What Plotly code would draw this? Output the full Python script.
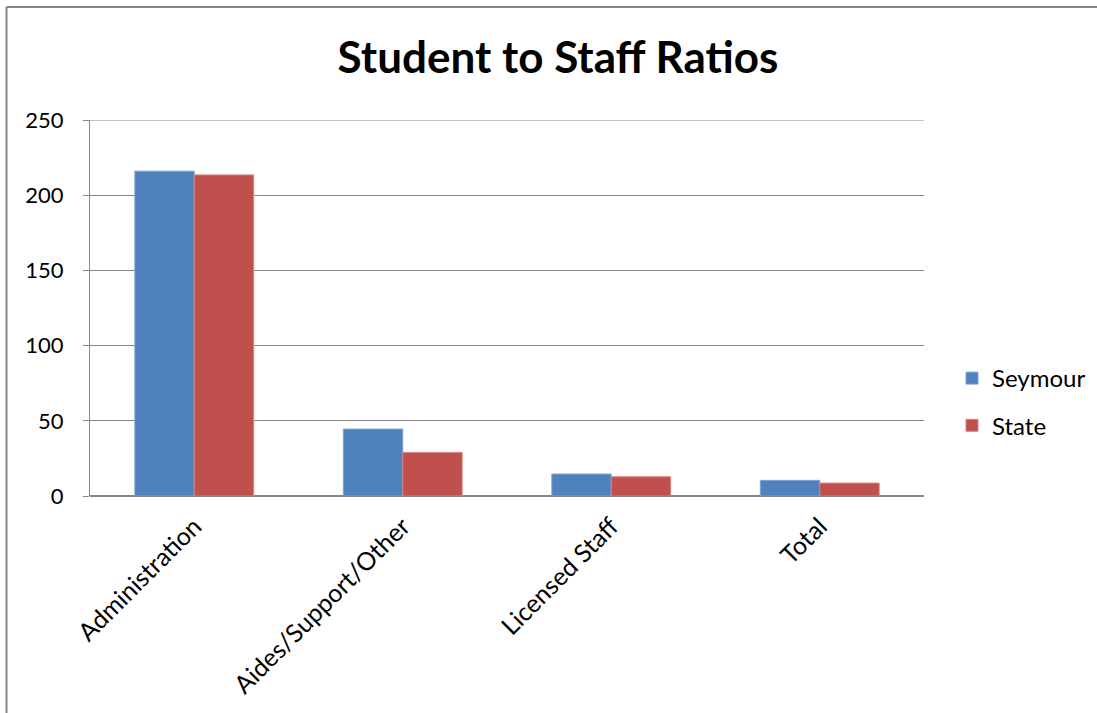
import plotly.graph_objects as go

categories = ["Administration", "Aides/Support/Other", "Licensed Staff", "Total"]
seymour = [216, 44.5, 14.6, 10.4]
state = [213.5, 29, 12.8, 8.6]
series_names = ["Seymour", "State"]
title_text = "Student to Staff Ratios"
y_max = 250

W, H = 1097, 713
L, R, T, B = 90, 1097 - 924, 120, 713 - 496
pw, ph = W - L - R, H - T - B

fig = go.Figure()
fig.add_trace(go.Bar(x=categories, y=seymour, name=series_names[0], legendgroup="a",
                     marker=dict(color="#4F81BD", line=dict(color="#7EA3D1", width=1))))
fig.add_trace(go.Bar(x=categories, y=state, name=series_names[1], legendgroup="b",
                     marker=dict(color="#C0504D", line=dict(color="#D58583", width=1))))

font = "Lato, 'Open Sans', sans-serif"
fig.update_layout(
    width=W, height=H,
    margin=dict(l=L, r=R, t=T, b=B, autoexpand=False),
    paper_bgcolor="white", plot_bgcolor="white",
    barmode="group", bargap=0.43, bargroupgap=0,
    title=dict(text="<b>" + title_text + "</b>", x=558 / W, xanchor="center",
               y=1 - 58 / H, yanchor="middle",
               font=dict(family=font, size=44, color="black")),
    font=dict(family=font, size=22, color="black"),
    showlegend=True,
    legend=dict(x=(952 - L) / pw, xanchor="left", y=1 - (356 - T) / ph, yanchor="top",
                font=dict(family=font, size=24, color="black"),
                tracegroupgap=13, itemwidth=30, bgcolor="rgba(0,0,0,0)"),
    xaxis=dict(tickangle=-45, showgrid=False, showline=False, ticks="",
               tickfont=dict(family=font, size=25, color="black"), ticklabelstandoff=10),
    yaxis=dict(range=[0, y_max], dtick=50, showgrid=True,
               gridcolor="#868686", gridwidth=1,
               showline=True, linecolor="#868686", linewidth=1, ticks="outside",
               ticklen=6, tickcolor="#868686", zeroline=True, zerolinecolor="#868686",
               tickfont=dict(family=font, size=22, color="black"), ticklabelstandoff=15),
)

# top gridline (plotly drops the one at the range edge)
fig.add_shape(type="line", xref="paper", yref="y", x0=0, x1=1, y0=y_max, y1=y_max,
              line=dict(color="#868686", width=1))

# outer chart border (visible on left and top)
x_border = (6.5 - L) / pw
y_border = 1 + (T - 7) / ph
fig.add_shape(type="line", xref="paper", yref="paper", x0=x_border, x1=x_border,
              y0=y_border, y1=-(B + 5) / ph, line=dict(color="#868686", width=2))
fig.add_shape(type="line", xref="paper", yref="paper", x0=x_border, x1=(W + 5 - L) / pw,
              y0=y_border, y1=y_border, line=dict(color="#868686", width=2))

fig.write_html("out.html", config={"displayModeBar": False},
               post_script="document.body.style.margin='0px';document.body.style.overflow='hidden';")
